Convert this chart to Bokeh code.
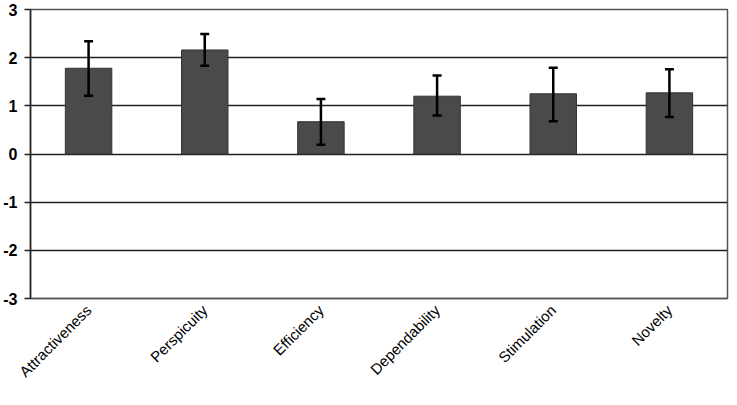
import math
from bokeh.plotting import figure
from bokeh.models import ColumnDataSource, Whisker, TeeHead, FixedTicker
from bokeh.embed import file_html
from bokeh.resources import INLINE

categories = ["Attractiveness", "Perspicuity", "Efficiency", "Dependability", "Stimulation", "Novelty"]
means = [1.78, 2.16, 0.67, 1.20, 1.25, 1.27]
lower = [1.21, 1.83, 0.19, 0.80, 0.68, 0.77]
upper = [2.34, 2.49, 1.14, 1.63, 1.79, 1.76]
y_ticks = [-3, -2, -1, 0, 1, 2, 3]
y_tick_labels = ["-3", "-2", "-1", "0", "1", "2", "3"]

src = ColumnDataSource(dict(cat=categories, mean=means, lower=lower, upper=upper))

p = figure(x_range=categories, y_range=(-3, 3), width=729, height=389,
           output_backend="svg", toolbar_location=None,
           min_border_left=29, min_border_right=2, min_border_top=9, min_border_bottom=90)

p.vbar(x="cat", top="mean", bottom=0, width=0.4, source=src,
       fill_color="#4a4a4a", line_color="#333333", line_width=1)

w = Whisker(base="cat", lower="lower", upper="upper", source=src,
            line_color="black", line_width=2.5, level="overlay",
            upper_head=TeeHead(size=9, line_color="black", line_width=2.5),
            lower_head=TeeHead(size=9, line_color="black", line_width=2.5))
p.add_layout(w)

p.yaxis.ticker = FixedTicker(ticks=y_ticks)
p.yaxis.major_label_overrides = {t: s for t, s in zip(y_ticks, y_tick_labels)}
p.yaxis.minor_tick_line_color = None
p.yaxis.major_tick_in = 0
p.yaxis.major_tick_out = 6
p.yaxis.major_tick_line_color = "#222222"
p.yaxis.major_tick_line_width = 1.5
p.yaxis.axis_line_color = "#222222"
p.yaxis.axis_line_width = 1.5
p.yaxis.major_label_text_font = "Liberation Sans"
p.yaxis.major_label_text_font_style = "bold"
p.yaxis.major_label_text_font_size = "16px"
p.yaxis.major_label_text_color = "black"
p.yaxis.major_label_standoff = 7

p.xaxis.major_tick_line_color = None
p.xaxis.minor_tick_line_color = None
p.xaxis.axis_line_color = "#555555"
p.xaxis.axis_line_width = 1.5
p.xaxis.major_label_orientation = math.pi / 4
p.xaxis.major_label_text_font = "Liberation Sans"
p.xaxis.major_label_text_font_size = "15px"
p.xaxis.major_label_text_color = "black"
p.xaxis.major_label_standoff = 3

p.xgrid.grid_line_color = None
p.ygrid.ticker = FixedTicker(ticks=y_ticks)
p.ygrid.grid_line_color = "#222222"
p.ygrid.grid_line_width = 1.5

p.outline_line_color = "#555555"
p.outline_line_width = 1.5
p.background_fill_color = "white"
p.border_fill_color = "white"

open("out.html", "w").write(file_html(p, INLINE))
